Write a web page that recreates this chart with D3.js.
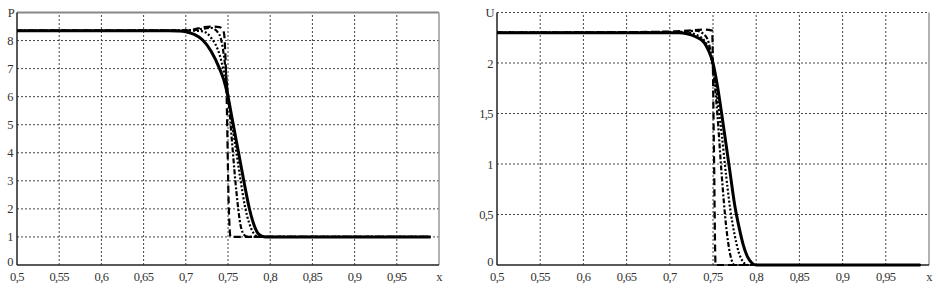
<!DOCTYPE html>
<meta charset="utf-8">
<head>
<script src="https://d3js.org/d3.v7.min.js"></script>
<style>
  body { margin: 0; background: #fff; }
  .tick-label { font-size: 12.5px; font-family: "Liberation Serif", "Times New Roman", "DejaVu Serif", serif; fill: #333; letter-spacing: -0.6px; }
  .grid { stroke: #444; stroke-width: 1; stroke-dasharray: 2,2; }
  .curve { fill: none; stroke: #000; stroke-linejoin: round; }
</style>
</head>
<body>
<script>

// tick labels
var xTicks = [0.5, 0.55, 0.6, 0.65, 0.7, 0.75, 0.8, 0.85, 0.9, 0.95];
var xTickLabels = ["0,5", "0,55", "0,6", "0,65", "0,7", "0,75", "0,8", "0,85", "0,9", "0,95"];
var pTicks = [0, 1, 2, 3, 4, 5, 6, 7, 8];
var pTickLabels = ["0", "1", "2", "3", "4", "5", "6", "7", "8"];
var uTicks = [0, 0.5, 1, 1.5, 2];
var uTickLabels = ["0", "0,5", "1", "1,5", "2"];

// P (pressure) curves
var pSolidX  = [0.5, 0.68, 0.69, 0.70, 0.71, 0.72, 0.73, 0.74, 0.745, 0.75, 0.755, 0.76, 0.765, 0.77, 0.775, 0.78, 0.785, 0.79, 0.795, 0.99];
var pSolidY  = [8.35, 8.35, 8.34, 8.31, 8.22, 8.02, 7.62, 7.0, 6.6, 6.0, 5.2, 4.4, 3.6, 2.8, 2.05, 1.5, 1.15, 1.03, 1.0, 1.0];
var pDotX    = [0.5, 0.71, 0.72, 0.73, 0.74, 0.745, 0.75, 0.755, 0.76, 0.765, 0.77, 0.775, 0.78, 0.785, 0.79, 0.99];
var pDotY    = [8.35, 8.35, 8.33, 8.1, 7.5, 6.9, 6.1, 5.0, 4.0, 3.0, 2.1, 1.5, 1.15, 1.02, 1.0, 1.0];
var pDashDotX = [0.5, 0.71, 0.72, 0.73, 0.74, 0.745, 0.75, 0.755, 0.76, 0.765, 0.77, 0.775, 0.99];
var pDashDotY = [8.35, 8.37, 8.42, 8.45, 8.2, 7.5, 6.1, 4.3, 2.6, 1.4, 1.05, 1.0, 1.0];
var pDashX   = [0.5, 0.70, 0.71, 0.72, 0.73, 0.74, 0.745, 0.748, 0.751, 0.753, 0.99];
var pDashY   = [8.35, 8.36, 8.4, 8.47, 8.5, 8.48, 8.3, 6.5, 2.0, 1.0, 1.0];

// U (velocity) curves
var uSolidX  = [0.5, 0.70, 0.71, 0.72, 0.73, 0.74, 0.745, 0.75, 0.755, 0.76, 0.765, 0.77, 0.775, 0.78, 0.785, 0.79, 0.795, 0.80, 0.99];
var uSolidY  = [2.3, 2.3, 2.3, 2.29, 2.26, 2.2, 2.12, 2.0, 1.78, 1.5, 1.2, 0.9, 0.6, 0.38, 0.2, 0.08, 0.02, 0.0, 0.0];
var uDotX    = [0.5, 0.72, 0.73, 0.74, 0.745, 0.75, 0.755, 0.76, 0.765, 0.77, 0.775, 0.78, 0.785, 0.79, 0.99];
var uDotY    = [2.3, 2.3, 2.28, 2.22, 2.13, 1.96, 1.65, 1.3, 0.9, 0.55, 0.3, 0.12, 0.03, 0.0, 0.0];
var uDashDotX = [0.5, 0.72, 0.73, 0.74, 0.745, 0.75, 0.755, 0.76, 0.765, 0.77, 0.775, 0.99];
var uDashDotY = [2.3, 2.31, 2.32, 2.28, 2.2, 1.95, 1.5, 0.9, 0.4, 0.1, 0.0, 0.0];
var uDashX   = [0.5, 0.70, 0.72, 0.74, 0.749, 0.751, 0.753, 0.99];
var uDashY   = [2.3, 2.31, 2.32, 2.33, 2.32, 1.2, 0.0, 0.0];

var svg = d3.select("body").append("svg")
    .attr("width", 938)
    .attr("height", 288);

function zip(xs, ys) { return xs.map(function(d, i) { return [d, ys[i]]; }); }

function drawPanel(opt) {
  var x = d3.scaleLinear().domain([0.5, 1.0]).range([opt.left, opt.right]);
  var y = d3.scaleLinear().domain([0, opt.ymax]).range([265, 12.5]);
  var g = svg.append("g");

  // vertical grid
  g.selectAll(".vgrid").data(xTicks.slice(1)).enter().append("line")
      .attr("class", "grid")
      .attr("x1", function(d) { return x(d); }).attr("x2", function(d) { return x(d); })
      .attr("y1", y(0)).attr("y2", y(opt.ymax));
  // horizontal grid
  g.selectAll(".hgrid").data(opt.grid).enter().append("line")
      .attr("class", "grid")
      .attr("x1", x(0.5)).attr("x2", x(1.0))
      .attr("y1", function(d) { return y(d); }).attr("y2", function(d) { return y(d); });

  // frame
  if (opt.topSolid) {
    g.append("line").attr("x1", x(0.5)).attr("x2", x(1.0))
      .attr("y1", y(opt.ymax)).attr("y2", y(opt.ymax))
      .attr("stroke", "#888").attr("stroke-width", 2);
  }
  g.append("line").attr("x1", x(1.0)).attr("x2", x(1.0))
    .attr("y1", y(0)).attr("y2", y(opt.ymax))
    .attr("stroke", "#999").attr("stroke-width", 1.5);
  g.append("line").attr("x1", x(0.5)).attr("x2", x(1.0))
    .attr("y1", y(0)).attr("y2", y(0))
    .attr("stroke", "#222").attr("stroke-width", 1.5);
  g.append("line").attr("x1", x(0.5)).attr("x2", x(0.5))
    .attr("y1", y(0)).attr("y2", y(opt.ymax))
    .attr("stroke", "#222").attr("stroke-width", 1.5);

  // x tick labels
  g.selectAll(".xl").data(xTicks).enter().append("text")
      .attr("class", "tick-label")
      .attr("x", function(d) { return x(d); })
      .attr("y", 281)
      .attr("text-anchor", "middle")
      .text(function(d, i) { return xTickLabels[i]; });
  g.append("text").attr("class", "tick-label")
      .attr("x", x(1.0)).attr("y", 281).attr("text-anchor", "middle").text("x");

  // y tick labels
  g.selectAll(".yl").data(opt.ticks).enter().append("text")
      .attr("class", "tick-label")
      .attr("x", x(0.5) - 4)
      .attr("y", function(d) { return d === 0 ? y(d) + 1 : y(d) + 4.5; })
      .attr("text-anchor", "end")
      .text(function(d, i) { return opt.tickLabels[i]; });
  g.append("text").attr("class", "tick-label")
      .attr("x", x(0.5) - 3).attr("y", y(opt.ymax) + 4)
      .attr("text-anchor", "end").text(opt.name);

  var line = d3.line()
      .x(function(d) { return x(d[0]); })
      .y(function(d) { return y(d[1]); })
      .curve(d3.curveMonotoneX);

  opt.curves.forEach(function(c) {
    g.append("path").datum(c.data)
      .attr("class", "curve")
      .attr("stroke-width", c.w)
      .attr("stroke-dasharray", c.dash)
      .attr("d", line);
  });
}

drawPanel({
  left: 17, right: 439, ymax: 9, name: "P",
  ticks: pTicks, tickLabels: pTickLabels, grid: [1, 2, 3, 4, 5, 6, 7, 8], topSolid: true,
  curves: [
    {data: zip(pDashX, pDashY), w: 2.2, dash: "7,4"},
    {data: zip(pDashDotX, pDashDotY), w: 2.2, dash: "5,2,2,2"},
    {data: zip(pDotX, pDotY), w: 2.2, dash: "2,2"},
    {data: zip(pSolidX, pSolidY), w: 3, dash: null}
  ]
});

drawPanel({
  left: 497, right: 929, ymax: 2.5, name: "U",
  ticks: uTicks, tickLabels: uTickLabels, grid: [0.5, 1, 1.5, 2, 2.5], topSolid: false,
  curves: [
    {data: zip(uDashX, uDashY), w: 2.2, dash: "7,4"},
    {data: zip(uDashDotX, uDashDotY), w: 2.2, dash: "5,2,2,2"},
    {data: zip(uDotX, uDotY), w: 2.2, dash: "2,2"},
    {data: zip(uSolidX, uSolidY), w: 3, dash: null}
  ]
});

</script>
</body>
